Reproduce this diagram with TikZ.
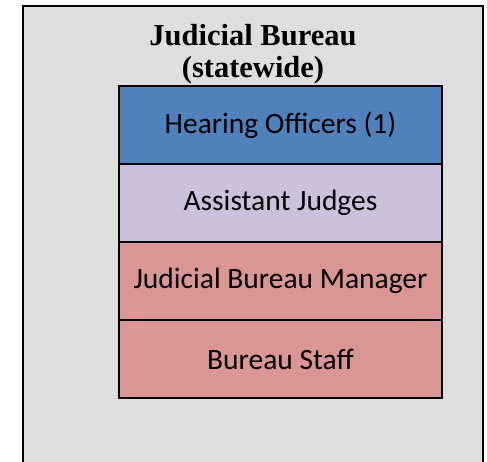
\documentclass[tikz,border=0pt]{standalone}
\usepackage{fontspec}
\setmainfont{Carlito}
\newfontfamily\titlefont{Liberation Serif}
\usepackage{tikz}

\tikzset{
	level/.style={shape=rectangle,draw=black,line width=1.6pt,minimum width=323pt,minimum height=78pt,inner sep=0pt,font=\fontsize{29.5}{32}\selectfont},
}

\definecolor{hearblue}{HTML}{4F81BD}
\definecolor{judgelilac}{HTML}{CCC0DA}
\definecolor{staffred}{HTML}{D99694}
\definecolor{bureaugray}{HTML}{DEDEDE}

\begin{document}
\begin{tikzpicture}[x=1pt,y=-1pt]

		\useasboundingbox (0, 0) rectangle (487, 462);
		\begin{scope}
		\clip (0, 0) rectangle (487, 462);
		\draw[fill=bureaugray,line width=1.6pt] (23, 6) rectangle (483, 480);
		\end{scope}

		\node[align=center,font=\titlefont\bfseries\fontsize{30.5}{32}\selectfont] (title) at (253, 54)     {Judicial Bureau\\(statewide)};

		\node[level,fill=hearblue]   (hear)    at (280.5, 125)     {Hearing Officers (1)};
		\node[level,fill=judgelilac] (judges)  at (280.5, 203)     {Assistant Judges};
		\node[level,fill=staffred]   (manager) at (280.5, 281)     {Judicial Bureau Manager};
		\node[level,fill=staffred]   (staff)   at (280.5, 359)     {Bureau Staff};

		\end{tikzpicture}
\end{document}
